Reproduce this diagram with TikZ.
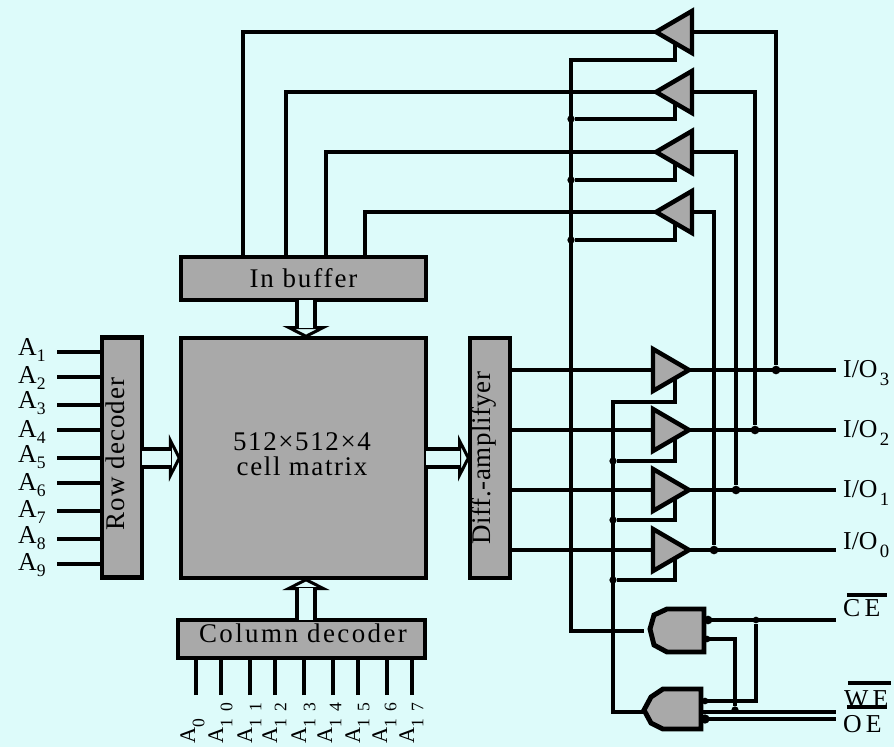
\documentclass[tikz,border=0pt]{standalone}
\usepackage{fontspec}
\setmainfont{Liberation Serif}
\usetikzlibrary{shapes.geometric,arrows.meta}

\definecolor{bgcyan}{HTML}{DDFBFA}
\definecolor{blockgray}{HTML}{A9A9A9}

\newcommand{\subidx}[1]{\raisebox{-5.5pt}{\fontsize{15}{15}\selectfont #1}}
\newcommand{\iosub}[1]{\kern2pt\raisebox{-7pt}{\fontsize{16}{16}\selectfont #1}}
\newcommand{\colsub}[1]{\raisebox{-8pt}{\fontsize{15}{15}\selectfont\addfontfeature{LetterSpace=45}#1}}
\newcommand{\barred}[4]{\rlap{\kern#2\rule[#3]{#4}{3.8pt}}\addfontfeature{LetterSpace=16}#1}

\tikzset{
	wire/.style={line width=3.8pt},
	block/.style={draw, fill=blockgray, line width=3.8pt, inner sep=0pt, outer sep=0pt, font=\fontsize{23}{25}\selectfont\addfontfeature{LetterSpace=7}},
	amp/.style={draw, fill=blockgray, line width=3.8pt, isosceles triangle, isosceles triangle stretches, minimum width=1.26cm, minimum height=1.08cm, inner sep=0pt, outer sep=0pt},
	gate/.style={draw, fill=blockgray, line width=4.2pt},
	junct/.style={circle, fill=black, inner sep=0pt, minimum size=0.26cm},
	pinlabel/.style={inner sep=0pt, font=\fontsize{22}{22}\selectfont},
	rowlabel/.style={inner sep=0pt, font=\fontsize{22}{22}\selectfont},
	collabel/.style={inner sep=0pt, font=\fontsize{19}{19}\selectfont},
	bushead/.style={line width=3.8pt, -{Triangle[open, fill=bgcyan, length=0.36cm, width=1.4cm]}},
	busshaft/.style={line width=3.8pt, double=bgcyan, double distance=11.6pt, shorten >=0.3cm}
}

\begin{document}
\begin{tikzpicture}[x=0.03cm, y=-0.03cm]
	\fill[bgcyan] (0,0) rectangle (894,747);
	\useasboundingbox (0,0) rectangle (894,747);

	% Define the blocks
	\node[block, minimum width=7.35cm, minimum height=1.29cm] (inbuf) at (303.5,278.5) {In buffer};
	\node[block, minimum width=7.35cm, minimum height=7.2cm] (matrix) at (303.5,458) {};
	\node[block, minimum width=1.2cm, minimum height=7.2cm] (rowdec) at (122,457.5) {};
	\node[block, minimum width=1.2cm, minimum height=7.2cm] (diffamp) at (490,458) {};
	\node[block, minimum width=7.41cm, minimum height=1.14cm] (coldec) at (301.5,639) {};
	\node[font=\fontsize{23}{25}\selectfont\addfontfeature{LetterSpace=9}, inner sep=0pt] (coltext) at (303,633) {Column decoder};
	\node[font=\fontsize{23}{21.3}\selectfont\addfontfeature{LetterSpace=6}, inner sep=0pt, align=center] (celltext) at (302,454) {512×512×4\\cell matrix};
	\node[font=\fontsize{23}{25}\selectfont\addfontfeature{LetterSpace=4}, inner sep=0pt, rotate=90] (rowtext) at (115,454) {Row decoder};
	\node[font=\fontsize{23}{25}\selectfont\addfontfeature{LetterSpace=2}, inner sep=0pt, rotate=90] (difftext) at (484,458) {Diff.-amplifyer};

	% Define the buffers towards the cell matrix
	\node[amp, shape border rotate=180, anchor=apex] (wbuf3) at (656,32) {};
	\node[amp, shape border rotate=180, anchor=apex] (wbuf2) at (656,92) {};
	\node[amp, shape border rotate=180, anchor=apex] (wbuf1) at (656,152) {};
	\node[amp, shape border rotate=180, anchor=apex] (wbuf0) at (656,212) {};

	% Define the buffers towards the pins
	\node[amp, anchor=apex] (rbuf3) at (689,370) {};
	\node[amp, anchor=apex] (rbuf2) at (689,430) {};
	\node[amp, anchor=apex] (rbuf1) at (689,490) {};
	\node[amp, anchor=apex] (rbuf0) at (689,550) {};

	% Define the gates
	\draw[gate] (650,629) -- (654,615) -- (667,609) -- (704,609) -- (704,652) -- (667,652) -- (654,645) -- cycle;
	\draw[gate] (644,710) -- (651,697) -- (663,689) -- (701,689) -- (701,729) -- (663,729) -- (651,723) -- cycle;
	\coordinate (g1in) at (644,631);
	\coordinate (g1a) at (704,620);
	\coordinate (g1b) at (704,639);
	\coordinate (g2in) at (644,712);
	\coordinate (g2a) at (701,701);
	\coordinate (g2b) at (701,712);
	\coordinate (g2c) at (701,719);
	\node[junct] (g1bub) at (708,620) {};
	\node[junct, minimum size=0.2cm] (g1pin) at (707,639) {};
	\node[junct, minimum size=0.2cm] (g2pin) at (705,701) {};
	\node[junct, minimum size=0.28cm] (g2bub) at (705,719) {};

	% Define the pins
	\node[pinlabel, anchor=base west] (io3) at (843,377) {I/O\iosub{3}};
	\node[pinlabel, anchor=base west] (io2) at (843,437) {I/O\iosub{2}};
	\node[pinlabel, anchor=base west] (io1) at (843,497) {I/O\iosub{1}};
	\node[pinlabel, anchor=base west] (io0) at (843,549) {I/O\iosub{0}};
	\node[pinlabel, anchor=base west] (ce) at (843,616) {\barred{CE}{3pt}{16pt}{34pt}};
	\node[pinlabel, anchor=base west] (we) at (844,707) {\barred{WE}{3pt}{18.5pt}{37pt}};
	\node[pinlabel, anchor=base west] (oe) at (843,732) {\barred{OE}{3pt}{19.5pt}{34pt}};
	\coordinate (ioe3) at (836,370);
	\coordinate (ioe2) at (836,430);
	\coordinate (ioe1) at (836,490);
	\coordinate (ioe0) at (836,550);
	\coordinate (cee) at (836,620);
	\coordinate (wee) at (836,712);
	\coordinate (oee) at (836,719);

	% Draw the data lines up to the first buffers
	\coordinate (ibt3) at (243,257);
	\coordinate (ibt2) at (286,257);
	\coordinate (ibt1) at (326,257);
	\coordinate (ibt0) at (365,257);
	\draw[wire] (ibt3) |- (wbuf3.apex);
	\draw[wire] (ibt2) |- (wbuf2.apex);
	\draw[wire] (ibt1) |- (wbuf1.apex);
	\draw[wire] (ibt0) |- (wbuf0.apex);

	% Draw the data lines out of the amplifier
	\draw[wire] (diffamp.east |- rbuf3.apex) -- (rbuf3.lower side);
	\draw[wire] (diffamp.east |- rbuf2.apex) -- (rbuf2.lower side);
	\draw[wire] (diffamp.east |- rbuf1.apex) -- (rbuf1.lower side);
	\draw[wire] (diffamp.east |- rbuf0.apex) -- (rbuf0.lower side);
	\draw[wire] (rbuf3.apex) -- (ioe3);
	\draw[wire] (rbuf2.apex) -- (ioe2);
	\draw[wire] (rbuf1.apex) -- (ioe1);
	\draw[wire] (rbuf0.apex) -- (ioe0);

	% Draw the feedback to the write buffers
	\node[junct] (j3) at (776,370) {};
	\node[junct] (j2) at (755,430) {};
	\node[junct] (j1) at (736,490) {};
	\node[junct] (j0) at (714,550) {};
	\draw[wire] (wbuf3.lower side) -| (j3);
	\draw[wire] (wbuf2.lower side) -| (j2);
	\draw[wire] (wbuf1.lower side) -| (j1);
	\draw[wire] (wbuf0.lower side) -| (j0);

	% Draw the enable of the write buffers
	\coordinate (wen3) at (675,43);
	\coordinate (wen2) at (675,103);
	\coordinate (wen1) at (675,163);
	\coordinate (wen0) at (675,223);
	\node[junct, minimum size=0.22cm] (wj2) at (571,119) {};
	\node[junct, minimum size=0.22cm] (wj1) at (571,180) {};
	\node[junct, minimum size=0.22cm] (wj0) at (571,240) {};
	\draw[wire] (wen3) |- (571,60) |- (g1in);
	\draw[wire] (wen2) |- (wj2);
	\draw[wire] (wen1) |- (wj1);
	\draw[wire] (wen0) |- (wj0);

	% Draw the enable of the read buffers
	\coordinate (ren3) at (675,379);
	\coordinate (ren2) at (675,439);
	\coordinate (ren1) at (675,499);
	\coordinate (ren0) at (675,559);
	\node[junct, minimum size=0.22cm] (rj2) at (613,461) {};
	\node[junct, minimum size=0.22cm] (rj1) at (613,520) {};
	\node[junct, minimum size=0.22cm] (rj0) at (613,580) {};
	\draw[wire] (ren3) |- (613,402) |- (g2in);
	\draw[wire] (ren2) |- (rj2);
	\draw[wire] (ren1) |- (rj1);
	\draw[wire] (ren0) |- (rj0);

	% Draw the control lines
	\node[junct, minimum size=0.2cm] (cj) at (756,620) {};
	\node[junct, minimum size=0.22cm] (oj) at (735,710) {};
	\draw[wire] (g1a) -- (cee);
	\draw[wire] (g2b) -- (wee);
	\draw[wire] (g2c) -- (oee);
	\draw[wire] (g1b) -| (oj);
	\draw[wire] (g2a) -| (cj);

	% Draw the wide buses
	\coordinate (busa) at (306,300);
	\coordinate (busb) at (306,620);
	\coordinate (busc) at (142,458);
	\coordinate (busd) at (426,458);
	\draw[bushead] (busa) -- (busa |- matrix.north);
	\draw[busshaft] (busa) -- (busa |- matrix.north);
	\draw[bushead] (busb) -- (busb |- matrix.south);
	\draw[busshaft] (busb) -- (busb |- matrix.south);
	\draw[bushead] (busc) -- (busc -| matrix.west);
	\draw[busshaft] (busc) -- (busc -| matrix.west);
	\draw[bushead] (busd) -- (busd -| diffamp.west);
	\draw[busshaft] (busd) -- (busd -| diffamp.west);

	% Draw the row address lines
	\node[rowlabel, anchor=base west] (a1) at (18,355) {A\subidx{1}};
	\node[rowlabel, anchor=base west] (a2) at (18,383) {A\subidx{2}};
	\node[rowlabel, anchor=base west] (a3) at (18,408) {A\subidx{3}};
	\node[rowlabel, anchor=base west] (a4) at (18,437) {A\subidx{4}};
	\node[rowlabel, anchor=base west] (a5) at (18,462) {A\subidx{5}};
	\node[rowlabel, anchor=base west] (a6) at (18,490) {A\subidx{6}};
	\node[rowlabel, anchor=base west] (a7) at (18,517) {A\subidx{7}};
	\node[rowlabel, anchor=base west] (a8) at (18,543) {A\subidx{8}};
	\node[rowlabel, anchor=base west] (a9) at (18,570) {A\subidx{9}};
	\coordinate (as1) at (57,352);
	\coordinate (as2) at (57,377);
	\coordinate (as3) at (57,405);
	\coordinate (as4) at (57,430);
	\coordinate (as5) at (57,458);
	\coordinate (as6) at (57,483);
	\coordinate (as7) at (57,511);
	\coordinate (as8) at (57,539);
	\coordinate (as9) at (57,564);
	\draw[wire] (as1) -- (as1 -| rowdec.west);
	\draw[wire] (as2) -- (as2 -| rowdec.west);
	\draw[wire] (as3) -- (as3 -| rowdec.west);
	\draw[wire] (as4) -- (as4 -| rowdec.west);
	\draw[wire] (as5) -- (as5 -| rowdec.west);
	\draw[wire] (as6) -- (as6 -| rowdec.west);
	\draw[wire] (as7) -- (as7 -| rowdec.west);
	\draw[wire] (as8) -- (as8 -| rowdec.west);
	\draw[wire] (as9) -- (as9 -| rowdec.west);

	% Draw the column address lines
	\node[collabel, anchor=base west, rotate=90] (a0) at (195,744) {A\colsub{0}};
	\node[collabel, anchor=base west, rotate=90] (a10) at (223,744) {A\colsub{10}};
	\node[collabel, anchor=base west, rotate=90] (a11) at (252,744) {A\colsub{11}};
	\node[collabel, anchor=base west, rotate=90] (a12) at (277,744) {A\colsub{12}};
	\node[collabel, anchor=base west, rotate=90] (a13) at (306,744) {A\colsub{13}};
	\node[collabel, anchor=base west, rotate=90] (a14) at (332,744) {A\colsub{14}};
	\node[collabel, anchor=base west, rotate=90] (a15) at (360,744) {A\colsub{15}};
	\node[collabel, anchor=base west, rotate=90] (a16) at (387,744) {A\colsub{16}};
	\node[collabel, anchor=base west, rotate=90] (a17) at (414,744) {A\colsub{17}};
	\coordinate (ac0) at (196,695);
	\coordinate (ac10) at (221,695);
	\coordinate (ac11) at (250,695);
	\coordinate (ac12) at (275,695);
	\coordinate (ac13) at (304,695);
	\coordinate (ac14) at (333,695);
	\coordinate (ac15) at (358,695);
	\coordinate (ac16) at (387,695);
	\coordinate (ac17) at (412,695);
	\draw[wire] (ac0) -- (ac0 |- coldec.south);
	\draw[wire] (ac10) -- (ac10 |- coldec.south);
	\draw[wire] (ac11) -- (ac11 |- coldec.south);
	\draw[wire] (ac12) -- (ac12 |- coldec.south);
	\draw[wire] (ac13) -- (ac13 |- coldec.south);
	\draw[wire] (ac14) -- (ac14 |- coldec.south);
	\draw[wire] (ac15) -- (ac15 |- coldec.south);
	\draw[wire] (ac16) -- (ac16 |- coldec.south);
	\draw[wire] (ac17) -- (ac17 |- coldec.south);
\end{tikzpicture}
\end{document}
